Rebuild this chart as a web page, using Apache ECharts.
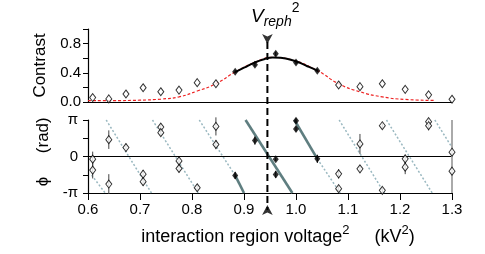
<!DOCTYPE html>
<html><head><meta charset="utf-8">
<script src="https://cdn.jsdelivr.net/npm/echarts@6/dist/echarts.min.js"></script>
<style>html,body{margin:0;padding:0;background:#fff}#c{width:485px;height:254px}</style>
</head><body><div id="c"></div>
<script>
// ---------- data ----------
const xTickLabels = ['0.6','0.7','0.8','0.9','1.0','1.1','1.2','1.3'];
const contrastTickLabels = ['0.0','','0.4','','0.8',''];
const phaseTickLabels = ['-π','','0','','π'];

// top panel: contrast
const topOpenX = [0.609,0.640,0.673,0.706,0.740,0.775,0.810,0.846,1.082,1.123,1.166,1.210,1.255,1.300];
const topOpenY = [0.061,0.042,0.110,0.195,0.140,0.163,0.265,0.250,0.233,0.210,0.250,0.173,0.098,0.038];
const topFilledX = [0.883,0.921,0.961,1.000,1.041];
const topFilledY = [0.414,0.510,0.660,0.540,0.428];
const topFilledErr = [0.02,0.025,0.03,0.025,0.02];
const redFitX = [0.600,0.650,0.700,0.740,0.775,0.810,0.846,0.883,0.920,0.955,0.990,1.041,1.082,1.123,1.166,1.210,1.265];
const redFitY = [0.020,0.020,0.025,0.040,0.070,0.150,0.250,0.410,0.540,0.610,0.580,0.430,0.250,0.140,0.070,0.035,0.022];
const blackFitX = [0.883,0.900,0.920,0.940,0.955,0.970,0.990,1.010,1.025,1.041];
const blackFitY = [0.410,0.470,0.540,0.590,0.610,0.605,0.580,0.530,0.480,0.430];

// bottom panel: phase (rad)
const phOpenX = [0.609,0.609,0.640,0.640,0.673,0.706,0.706,0.740,0.740,0.775,0.775,0.810,0.846,0.846,
                 1.082,1.082,1.123,1.123,1.166,1.166,1.210,1.210,1.255,1.255,1.300,1.300];
const phOpenY = [-0.23,-1.17,1.45,-2.37,0.77,-1.52,-2.17,2.53,2.05,-0.38,-1.03,-2.69,2.59,1.03,
                 -1.49,-2.77,1.08,-1.06,2.65,-2.91,-0.20,-0.92,3.00,2.65,0.37,-1.26];
const phOpenErr = [0.65,0.72,0.80,0.85,0.35,0.35,0.35,0.30,0.30,0.35,0.35,0.25,0.78,0.40,
                   0.40,0.25,0.86,0.30,0.25,0.25,0.35,0.60,0.25,0.40,0.30,0.0];
const phFilledX = [0.883,0.921,0.961,0.961,1.000,1.000,1.041];
const phFilledY = [-1.63,1.37,-0.23,-1.54,3.08,2.36,-0.20];
const phFilledErr = [0.30,0.35,0.15,0.30,0.20,0.20,0.35];

// phase fit segments (start x, start phase, end x, end phase)
const dottedStartX = [0.607,0.635,0.724,0.814,1.041,1.083,1.174,1.267];
const dottedStartY = [-1.60,3.1416,3.1416,3.1416,-0.20,3.1416,3.1416,3.1416];
const dottedEndX   = [0.633,0.722,0.812,0.883,1.085,1.170,1.262,1.300];
const dottedEndY   = [-3.1416,-3.1416,-3.1416,-1.63,-3.1416,-3.1416,-3.1416,0.78];
const solidStartX = [0.883,0.903,0.997];
const solidStartY = [-1.63,3.1416,3.1416];
const solidEndX   = [0.900,0.993,1.041];
const solidEndY   = [-3.1416,-3.1416,-0.20];

const vReph2 = 0.945;

// ---------- chart ----------
const FONT = '"Liberation Sans", Arial, Helvetica, sans-serif';
const GL = 88, GW = 364;
const zip = (a, b) => a.map((v, i) => [v, b[i]]);
const zip3 = (a, b, c) => a.map((v, i) => [v, b[i], c[i]]);

function errBars(color) {
  return function (params, api) {
    const x = api.value(0), y = api.value(1), e = api.value(2);
    if (!e) return null;
    const p1 = api.coord([x, y - e]);
    const p2 = api.coord([x, y + e]);
    return { type: 'line', shape: { x1: p1[0], y1: p1[1], x2: p2[0], y2: p2[1] },
             style: { stroke: color, lineWidth: 1 } };
  };
}

const SYM = [6, 8];
const series = [];
// top panel
series.push({ type: 'line', xAxisIndex: 0, yAxisIndex: 0, data: zip(redFitX, redFitY), smooth: true,
  showSymbol: false, silent: true, lineStyle: { color: '#ee2222', width: 1.2, type: [3, 2] }, z: 2 });
series.push({ type: 'line', xAxisIndex: 0, yAxisIndex: 0, data: zip(blackFitX, blackFitY), smooth: true,
  showSymbol: false, silent: true, lineStyle: { color: '#000', width: 2 }, z: 3 });
series.push({ type: 'custom', xAxisIndex: 0, yAxisIndex: 0, data: zip3(topFilledX, topFilledY, topFilledErr),
  renderItem: errBars('#000'), z: 4 });
series.push({ type: 'scatter', xAxisIndex: 0, yAxisIndex: 0, data: zip(topFilledX, topFilledY),
  symbol: 'diamond', symbolSize: SYM, itemStyle: { color: '#000' }, z: 5 });
series.push({ type: 'scatter', xAxisIndex: 0, yAxisIndex: 0, data: zip(topOpenX, topOpenY),
  symbol: 'diamond', symbolSize: SYM, itemStyle: { color: '#fff', borderColor: '#000', borderWidth: 1 }, z: 5 });

// bottom panel fit segments
dottedStartX.forEach((x, i) => {
  series.push({ type: 'line', xAxisIndex: 1, yAxisIndex: 1, silent: true, showSymbol: false,
    data: [[x, dottedStartY[i]], [dottedEndX[i], dottedEndY[i]]],
    lineStyle: { color: '#9ab8c0', width: 1.5, type: [2, 2] }, z: 2 });
});
solidStartX.forEach((x, i) => {
  series.push({ type: 'line', xAxisIndex: 1, yAxisIndex: 1, silent: true, showSymbol: false,
    data: [[x, solidStartY[i]], [solidEndX[i], solidEndY[i]]],
    lineStyle: { color: '#5f7e80', width: 2.6 }, z: 2 });
});
// zero line + right boundary
series.push({ type: 'line', xAxisIndex: 1, yAxisIndex: 1, data: [], silent: true,
  markLine: { silent: true, symbol: ['none', 'none'], label: { show: false }, animation: false,
    data: [
      { yAxis: 0, lineStyle: { color: '#000', width: 1.2, type: 'solid' } },
      { xAxis: 1.3, lineStyle: { color: '#aaaaaa', width: 2, type: 'solid' } }
    ] }, z: 1 });
series.push({ type: 'custom', xAxisIndex: 1, yAxisIndex: 1, data: zip3(phOpenX, phOpenY, phOpenErr),
  renderItem: errBars('#444'), z: 4 });
series.push({ type: 'custom', xAxisIndex: 1, yAxisIndex: 1, data: zip3(phFilledX, phFilledY, phFilledErr),
  renderItem: errBars('#000'), z: 4 });
series.push({ type: 'scatter', xAxisIndex: 1, yAxisIndex: 1, data: zip(phOpenX, phOpenY),
  symbol: 'diamond', symbolSize: SYM, itemStyle: { color: '#fff', borderColor: '#000', borderWidth: 1 }, z: 5 });
series.push({ type: 'scatter', xAxisIndex: 1, yAxisIndex: 1, data: zip(phFilledX, phFilledY),
  symbol: 'diamond', symbolSize: SYM, itemStyle: { color: '#000' }, z: 5 });

// overlay: V_reph^2 marker (y in page rows of overlay grid)
series.push({ type: 'line', xAxisIndex: 2, yAxisIndex: 2, silent: true, showSymbol: false,
  data: [[vReph2, 42], [vReph2, 210]], lineStyle: { color: '#000', width: 2, type: [7, 4] }, z: 6 });
series.push({ type: 'scatter', xAxisIndex: 2, yAxisIndex: 2, silent: true,
  data: [[vReph2, 44]], symbol: 'arrow', symbolSize: [8, 10], symbolRotate: 180, itemStyle: { color: '#000' }, z: 7 });
series.push({ type: 'scatter', xAxisIndex: 2, yAxisIndex: 2, silent: true,
  data: [[vReph2, 205]], symbol: 'arrow', symbolSize: [8, 10], itemStyle: { color: '#000' }, z: 7 });

const chart = echarts.init(document.getElementById('c'), null, { renderer: 'canvas' });
chart.setOption({
  animation: false,
  backgroundColor: '#fff',
  textStyle: { fontFamily: FONT, color: '#000' },
  grid: [
    { left: GL, width: GW, top: 29, height: 73 },
    { left: GL, width: GW, top: 120, height: 73 },
    { left: GL, width: GW, top: 0, height: 254 }
  ],
  xAxis: [
    { gridIndex: 0, type: 'value', min: 0.6, max: 1.3, interval: 0.1,
      axisLine: { show: true, onZero: true, lineStyle: { color: '#000', width: 1.2 } },
      axisTick: { show: false }, axisLabel: { show: false }, splitLine: { show: false } },
    { gridIndex: 1, type: 'value', min: 0.6, max: 1.3, interval: 0.1,
      axisLine: { show: true, onZero: false, lineStyle: { color: '#000', width: 1.2 } },
      axisTick: { show: true, length: 7, lineStyle: { color: '#000' } },
      axisLabel: { fontSize: 15, color: '#000', fontFamily: FONT, margin: 9,
        formatter: (v, i) => xTickLabels[i] },
      splitLine: { show: false },
      name: '{n|interaction region voltage}{s|2}{n|     (kV}{s|2}{n|)}', nameLocation: 'middle', nameGap: 35,
      nameTextStyle: { fontFamily: FONT, color: '#000', padding: [0, 0, 0, 16],
        rich: { n: { fontSize: 18, lineHeight: 18, verticalAlign: 'bottom', fontFamily: FONT, color: '#000' },
                s: { fontSize: 13, lineHeight: 13, padding: [0, 0, 9, 0], verticalAlign: 'bottom', fontFamily: FONT, color: '#000' } } } },
    { gridIndex: 2, type: 'value', min: 0.6, max: 1.3, show: false }
  ],
  yAxis: [
    { gridIndex: 0, type: 'value', min: 0, max: 1, interval: 0.2,
      axisLine: { show: true, onZero: false, lineStyle: { color: '#000', width: 1.2 } },
      axisTick: { show: true, length: 5, lineStyle: { color: '#000' } },
      axisLabel: { fontSize: 15, color: '#000', fontFamily: FONT, margin: 7, formatter: (v, i) => contrastTickLabels[i] },
      splitLine: { show: false },
      name: 'Contrast', nameLocation: 'middle', nameGap: 33,
      nameTextStyle: { fontSize: 17, fontFamily: FONT, color: '#000' } },
    { gridIndex: 1, type: 'value', min: -Math.PI, max: Math.PI, interval: Math.PI / 2,
      axisLine: { show: true, onZero: false, lineStyle: { color: '#000', width: 1.2 } },
      axisTick: { show: true, length: 5, lineStyle: { color: '#000' } },
      axisLabel: { fontSize: 15, color: '#000', fontFamily: FONT, margin: 10, formatter: (v, i) => phaseTickLabels[i] },
      splitLine: { show: false },
      name: '  ϕ     (rad)', nameLocation: 'middle', nameGap: 33,
      nameTextStyle: { fontSize: 17, fontFamily: FONT, color: '#000' } },
    { gridIndex: 2, type: 'value', min: 0, max: 254, inverse: true, show: false }
  ],
  graphic: [
    { type: 'text', left: 251, top: 0, silent: true,
      style: { text: '{v|V}{r|reph}{p|2}', fill: '#000',
        rich: { v: { fontSize: 19, fontStyle: 'italic', lineHeight: 34, verticalAlign: 'middle', fontFamily: FONT, fill: '#000' },
                r: { fontSize: 14, fontStyle: 'italic', lineHeight: 14, verticalAlign: 'bottom', padding: [0, 0, 5, 0], fontFamily: FONT, fill: '#000' },
                p: { fontSize: 14, lineHeight: 14, verticalAlign: 'top', padding: [1, 0, 0, 0], fontFamily: FONT, fill: '#000' } } } }
  ],
  series: series
});
</script>
</body></html>
